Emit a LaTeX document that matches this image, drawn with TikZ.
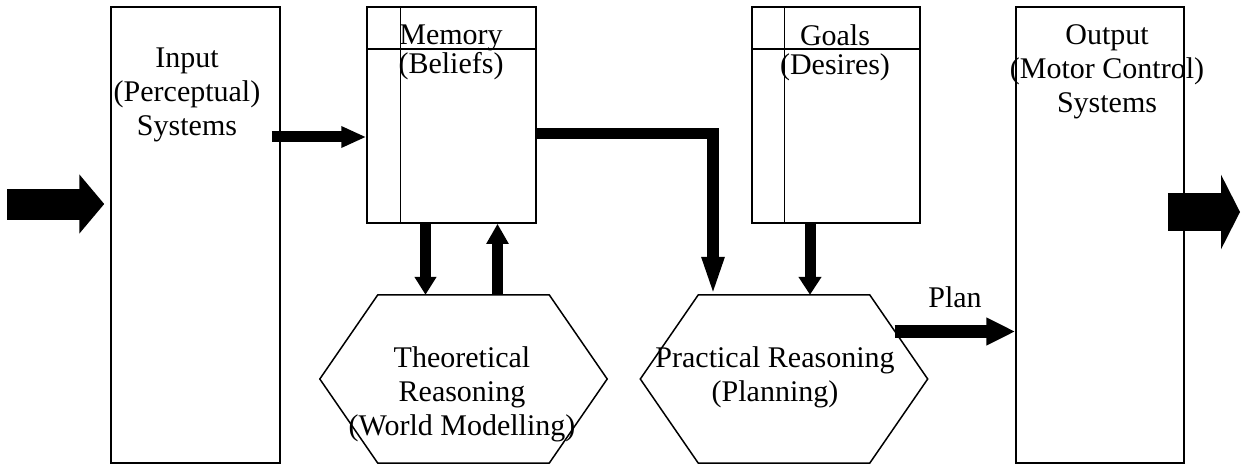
\documentclass[tikz,border=0pt]{standalone}
\usepackage{fontspec}
\setmainfont{Liberation Serif}
\usetikzlibrary{arrows.meta}
\usetikzlibrary{calc}

\tikzset{
  box/.style={draw, line width=1.5pt, inner sep=0pt},
  hexframe/.style={inner sep=0pt, minimum width=287pt, minimum height=168pt},
  txt/.style={align=center, inner sep=0pt, anchor=north},
}

\begin{document}
\begin{tikzpicture}[x=1pt, y=-1pt, font=\fontsize{30}{34}\selectfont]
\useasboundingbox (0,0) rectangle (1242,468);
% boxes
\node[box, minimum width=169pt, minimum height=456pt] (input) at (195.5,235) {};
\node[box, minimum width=169pt, minimum height=216pt] (memory) at (451.5,115) {};
\node[box, minimum width=168pt, minimum height=216pt] (goals) at (836,115) {};
\node[box, minimum width=168pt, minimum height=456pt] (output) at (1100,235) {};
\draw[line width=1.5pt] ($(memory.north west)+(34,0)$) -- ($(memory.south west)+(34,0)$);
\draw[line width=1.5pt] ($(memory.north west)+(0,43)$) -- ($(memory.north east)+(0,43)$);
\draw[line width=1.5pt] ($(goals.north west)+(33,0)$) -- ($(goals.south west)+(33,0)$);
\draw[line width=1.5pt] ($(goals.north west)+(0,43)$) -- ($(goals.north east)+(0,43)$);
% hexagons
\node[hexframe] (theo) at (463.5,379) {};
\node[hexframe] (prac) at (784,379) {};
\foreach \h in {theo,prac}
  \draw[line width=1.5pt] (\h.west) -- ($(\h.north west)+(58,0)$) -- ($(\h.north east)+(-58,0)$)
    -- (\h.east) -- ($(\h.south east)+(-58,0)$) -- ($(\h.south west)+(58,0)$) -- cycle;
% texts
\node[txt] (inputtext) at (187,47.5) {Input\\(Perceptual)\\Systems};
\node[txt] (memorytext) at (451,24.5) {Memory\\[-5pt](Beliefs)};
\node[txt] (goalstext) at (835,24.5) {Goals\\[-5pt](Desires)};
\node[txt] (outputtext) at (1107,24.5) {Output\\(Motor Control)\\Systems};
\node[txt] (theotext) at (462,346.5) {Theoretical\\Reasoning\\(World Modelling)};
\node[txt] (practext) at (775,346.5) {Practical Reasoning\\(Planning)};
\node[anchor=base, inner sep=0pt] (plan) at (955,307) {Plan};
% arrows
\coordinate (inL) at (7,204);
\coordinate (outR) at (1240,212);
\draw[line width=31pt, -{Triangle[length=25pt,width=58pt]}] (inL) -- ($(input.west)+(-6,-31)$);
\draw[line width=11pt, -{Triangle[length=25pt,width=20pt]}] ($(input.east)+(-9,-98)$) -- ($(memory.west)+(0,22)$);
\draw[line width=11pt, -{Triangle[length=18pt,width=21pt]}] ($(memory.south)+(-26,0)$) -- ($(theo.north)+(-38,0)$);
\draw[line width=11pt, -{Triangle[length=20pt,width=21pt]}] ($(theo.north)+(34,0)$) -- ($(memory.south)+(46,0)$);
\draw[line width=11.5pt, -{Triangle[length=40pt,width=20pt]}] ($(memory.east)+(0,18.5)$) -| ($(prac.north)+(-71,2)$);
\draw[line width=11pt, -{Triangle[length=18pt,width=22pt]}] ($(goals.south)+(-26,0)$) -- ($(prac.north)+(26,0)$);
\draw[line width=13pt, -{Triangle[length=29pt,width=26pt]}] ($(prac.east)+(-33,-47.5)$) -- ($(output.west)+(0,96.5)$);
\draw[line width=38pt, -{Triangle[length=19pt,width=74pt]}] ($(output.east)+(-17,-23)$) -- (outR);
\end{tikzpicture}
\end{document}
